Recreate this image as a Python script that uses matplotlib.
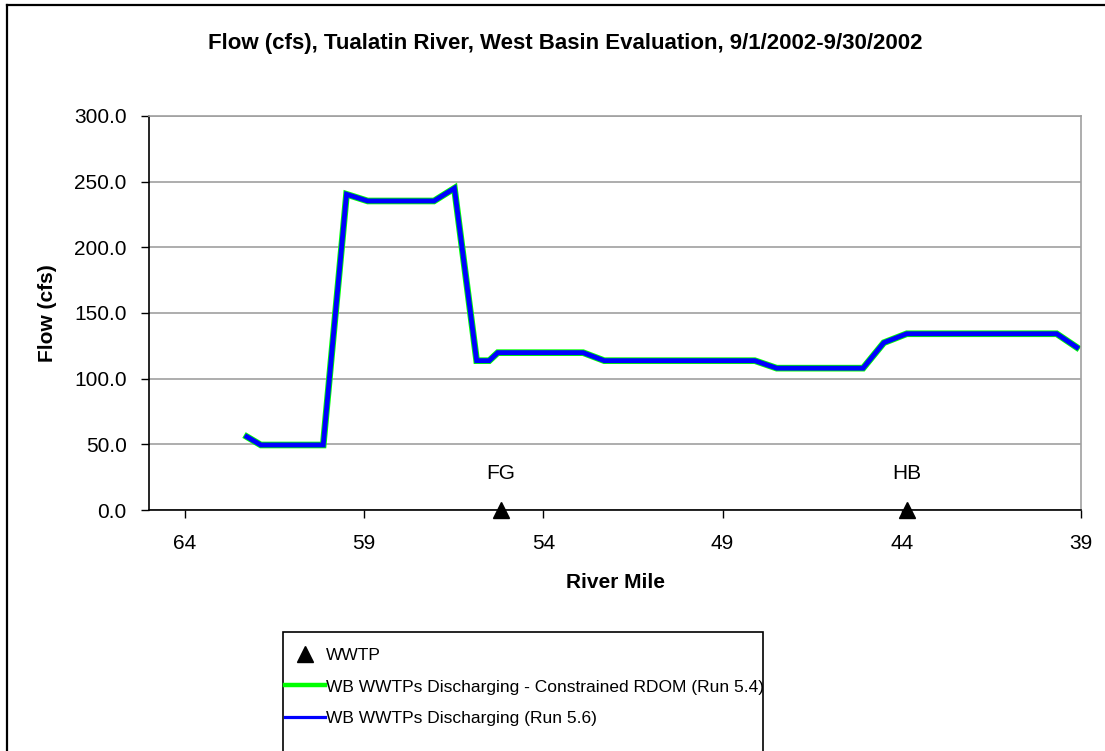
import matplotlib
matplotlib.use('Agg')
import matplotlib.pyplot as plt
from matplotlib.lines import Line2D
from matplotlib.patches import Rectangle

plt.rcParams['font.family'] = ['Liberation Sans', 'DejaVu Sans']

# river mile vs flow, both model runs
river_mile = [62.27, 61.88, 60.14, 59.49, 58.90, 57.05, 56.48, 55.86, 55.51, 55.27,
              52.89, 52.30, 48.10, 47.49, 45.08, 44.50, 43.86, 39.68, 39.12]
flow_run54 = [55.8, 49.5, 49.5, 240.4, 235.3, 235.3, 245.0, 113.7, 113.7, 119.8,
              119.8, 113.7, 113.7, 108.0, 108.0, 127.4, 134.2, 134.2, 123.9]
flow_run56 = [55.8, 49.5, 49.5, 240.4, 235.3, 235.3, 245.0, 113.7, 113.7, 119.8,
              119.8, 113.7, 113.7, 108.0, 108.0, 127.4, 134.2, 134.2, 123.9]

# treatment plant locations
wwtp_names = ['FG', 'HB']
wwtp_mile = [55.18, 43.86]
wwtp_flow = [0.0, 0.0]

x_ticks = [64, 59, 54, 49, 44, 39]
y_ticks = [0, 50, 100, 150, 200, 250, 300]

label54 = 'WB WWTPs Discharging - Constrained RDOM (Run 5.4)'
label56 = 'WB WWTPs Discharging (Run 5.6)'

fig = plt.figure(figsize=(11.05, 7.51), dpi=100)
ax = fig.add_axes([149/1105, 1 - 510/751, (1081-149)/1105, (510-116)/751])

ax.plot(river_mile, flow_run54, color='#00ff00', lw=4.8, solid_joinstyle='miter')
ax.plot(river_mile, flow_run56, color='#0000ff', lw=3.5, solid_joinstyle='miter')
ax.plot(wwtp_mile, wwtp_flow, '^', color='black', ms=11.5, ls='none', clip_on=False,
        zorder=5)
for name, m, f in zip(wwtp_names, wwtp_mile, wwtp_flow):
    ax.annotate(name, (m, f), xytext=(0, 26), textcoords='offset points',
                ha='center', va='center', fontsize=15)

ax.set_xlim(65, 39)
ax.set_ylim(0, 300)
ax.set_xticks(x_ticks)
ax.set_xticklabels([str(t) for t in x_ticks])
ax.set_yticks(y_ticks)
ax.set_yticklabels(['%.1f' % t for t in y_ticks])
ax.tick_params(axis='both', labelsize=15, direction='out', length=6, width=1, color='black')
ax.tick_params(axis='x', pad=11)
ax.tick_params(axis='y', pad=10)
ax.grid(axis='y', color='#a0a0a0', lw=1.2)
ax.set_axisbelow(True)
for s in ['top', 'right']:
    ax.spines[s].set_color('#a0a0a0')
    ax.spines[s].set_linewidth(1.2)
for s in ['left', 'bottom']:
    ax.spines[s].set_color('black')
    ax.spines[s].set_linewidth(1.2)

ax.set_xlabel('River Mile', fontsize=15, fontweight='bold', labelpad=15)
ax.set_ylabel('Flow (cfs)', fontsize=15, fontweight='bold', labelpad=12)
fig.text(565/1105, 1 - 43/751, 'Flow (cfs), Tualatin River, West Basin Evaluation, 9/1/2002-9/30/2002',
         ha='center', va='center', fontsize=16, fontweight='bold')

# outer chart frame (left and top edges)
fig.add_artist(Line2D([7/1105, 7/1105], [0, 1 - 5/751], transform=fig.transFigure,
                      color='black', lw=1.6))
fig.add_artist(Line2D([7/1105, 1], [1 - 5/751, 1 - 5/751], transform=fig.transFigure,
                      color='black', lw=1.6))

# legend box
fig.add_artist(Rectangle((283/1105, -0.02), (763-283)/1105, 0.02 + (751-632)/751,
                         transform=fig.transFigure, fill=False, edgecolor='black', lw=1.2))
handles = [Line2D([], [], marker='^', color='black', ms=11, ls='none'),
           Line2D([], [], color='#00ff00', lw=3.2),
           Line2D([], [], color='#0000ff', lw=2.3)]
fig.legend(handles, ['WWTP', label54, label56],
           loc='upper left', bbox_to_anchor=(283/1105, 1 - 646/751), frameon=False,
           fontsize=12.5, handlelength=2.3, handletextpad=0.1, labelspacing=0.95,
           borderaxespad=0, borderpad=0.1)

fig.savefig('out.png', dpi=100)
